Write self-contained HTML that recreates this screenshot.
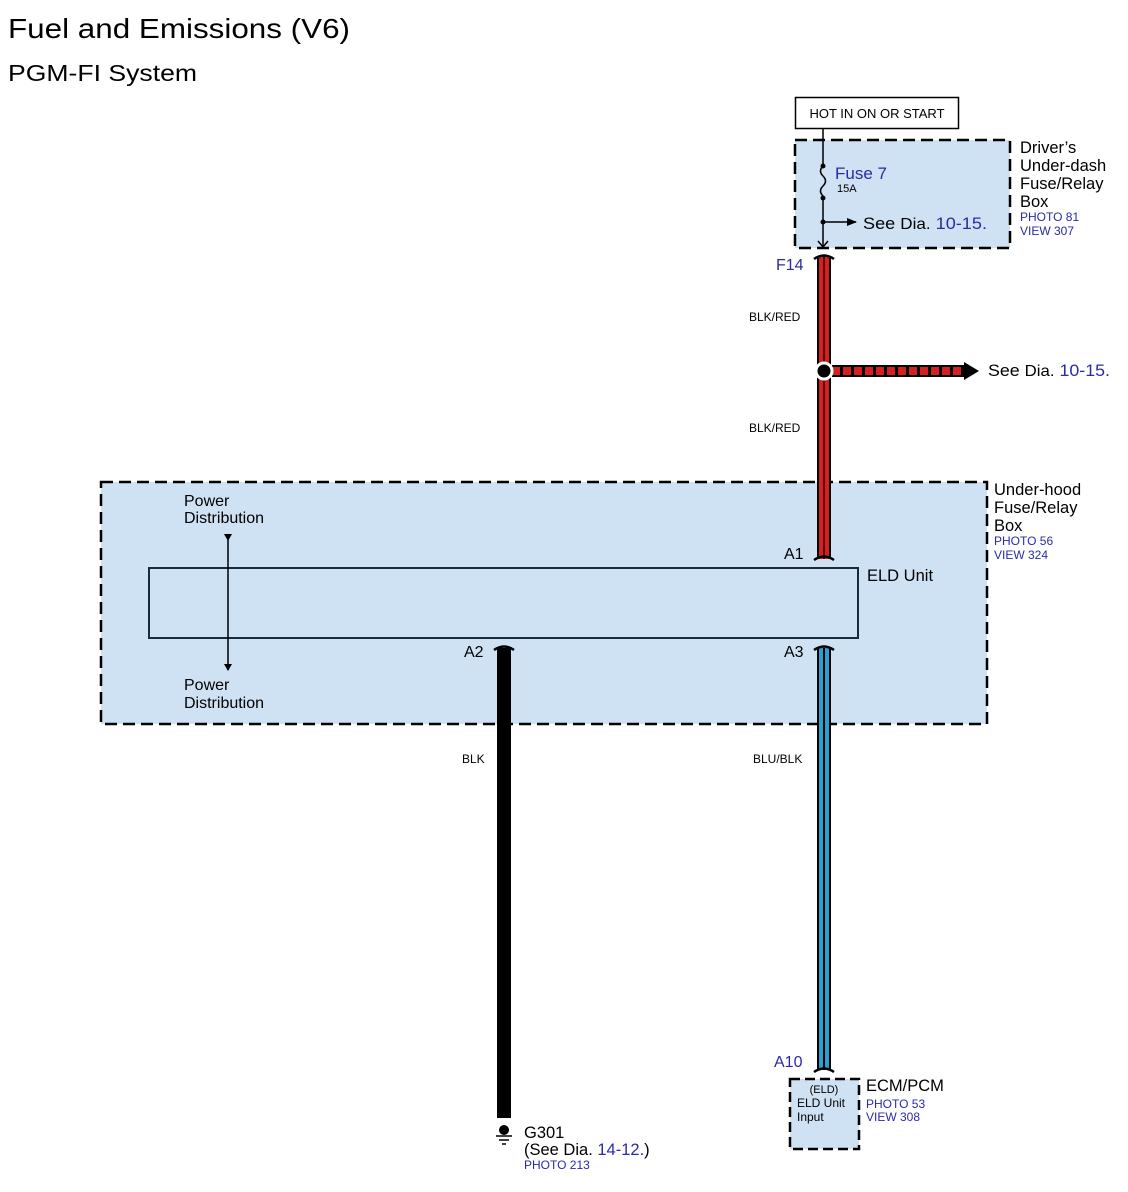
<!DOCTYPE html>
<html><head><meta charset="utf-8"><style>
html,body{margin:0;padding:0;background:#fff;}
svg{display:block;font-family:"Liberation Sans",Arial,sans-serif;}
</style></head><body>
<svg width="1128" height="1192" viewBox="0 0 1128 1192" xmlns="http://www.w3.org/2000/svg">
<defs>
<marker id="ah" markerWidth="10" markerHeight="10" refX="9" refY="5" orient="auto" markerUnits="userSpaceOnUse"><path d="M0,1 L10,5 L0,9 Z" fill="#000"/></marker>
</defs>
<text x="8" y="38" font-size="28" textLength="342" lengthAdjust="spacingAndGlyphs">Fuel and Emissions (V6)</text>
<text x="8" y="81" font-size="23" textLength="189" lengthAdjust="spacingAndGlyphs">PGM-FI System</text>

<rect x="795.5" y="97.5" width="163" height="31" fill="#fff" stroke="#000" stroke-width="1.5"/>
<text x="877" y="118" font-size="13" text-anchor="middle">HOT IN ON OR START</text>

<rect x="795" y="140" width="215" height="108" fill="#cfe2f3" stroke="#000" stroke-width="2.5" stroke-dasharray="12,6"/>
<line x1="823" y1="128" x2="823" y2="166" stroke="#000" stroke-width="1.5"/>
<path d="M823,166 q-5,5 0,10 q5,5 0,10 q-5,5 0,10" fill="none" stroke="#000" stroke-width="1.5"/>
<circle cx="823" cy="166" r="2.5"/><circle cx="823" cy="198" r="2.5"/><circle cx="823" cy="222" r="2.5"/>
<line x1="823" y1="198" x2="823" y2="247" stroke="#000" stroke-width="1.5"/>
<path d="M818,241 L823,247 L828,241" fill="none" stroke="#000" stroke-width="1.5"/>
<line x1="823" y1="222" x2="856" y2="222" stroke="#000" stroke-width="1.5" marker-end="url(#ah)"/>
<text x="835" y="179" font-size="17" fill="#2a2aa8">Fuse 7</text>
<text x="837" y="192" font-size="11">15A</text>
<text x="863" y="229" font-size="17" textLength="124" lengthAdjust="spacingAndGlyphs">See <tspan font-size="16">Dia.</tspan> <tspan fill="#2a2aa8">10-15.</tspan></text>
<text x="1020" y="153" font-size="16.5">Driver’s</text>
<text x="1020" y="171" font-size="16.5">Under-dash</text>
<text x="1020" y="189" font-size="16.5">Fuse/Relay</text>
<text x="1020" y="207" font-size="16.5">Box</text>
<text x="1020" y="221" font-size="12" fill="#2a2aa8">PHOTO 81</text>
<text x="1020" y="235" font-size="12" fill="#2a2aa8">VIEW 307</text>

<rect x="101" y="482" width="886" height="242" fill="#cfe2f3" stroke="#000" stroke-width="2.5" stroke-dasharray="12,6"/>
<rect x="149" y="568" width="709" height="70" fill="none" stroke="#1a2a3a" stroke-width="2"/>
<text x="867" y="581" font-size="16.5">ELD Unit</text>
<text x="994" y="495" font-size="16.5">Under-hood</text>
<text x="994" y="513" font-size="16.5">Fuse/Relay</text>
<text x="994" y="531" font-size="16.5">Box</text>
<text x="994" y="545" font-size="12" fill="#2a2aa8">PHOTO 56</text>
<text x="994" y="559" font-size="12" fill="#2a2aa8">VIEW 324</text>
<text x="184" y="506" font-size="16">Power</text>
<text x="184" y="523" font-size="16">Distribution</text>
<text x="184" y="690" font-size="16">Power</text>
<text x="184" y="708" font-size="16">Distribution</text>
<line x1="228" y1="534" x2="228" y2="670" stroke="#000" stroke-width="1.5"/>
<path d="M224,534 L232,534 L228,541 Z"/>
<path d="M224,664 L232,664 L228,671 Z"/>

<rect x="817" y="256" width="14" height="303" fill="#000"/>
<rect x="819" y="256" width="10" height="303" fill="#d42020"/>
<line x1="824" y1="256" x2="824" y2="559" stroke="#300" stroke-width="1.5"/>
<path d="M814,259 Q824,252 834,259" fill="none" stroke="#000" stroke-width="2.5"/>
<path d="M814,560 Q824,553 834,560" fill="none" stroke="#000" stroke-width="2.5"/>
<text x="776" y="270" font-size="16" fill="#2a2aa8">F14</text>
<text x="749" y="321" font-size="12">BLK/RED</text>
<text x="749" y="432" font-size="12">BLK/RED</text>
<text x="784" y="559" font-size="16">A1</text>
<rect x="832" y="365" width="133" height="12" fill="#000"/>
<line x1="832" y1="371" x2="965" y2="371" stroke="#d42020" stroke-width="8" stroke-dasharray="8,3"/>
<path d="M964,362 L979,371 L964,380 Z"/>
<circle cx="824" cy="371" r="8" fill="#000" stroke="#fff" stroke-width="3"/>
<text x="988" y="376" font-size="17" textLength="122" lengthAdjust="spacingAndGlyphs">See <tspan font-size="16">Dia.</tspan> <tspan fill="#2a2aa8">10-15.</tspan></text>

<rect x="497" y="648" width="14" height="470" fill="#000"/>
<path d="M494,650 Q504,643 514,650" fill="none" stroke="#000" stroke-width="2.5"/>
<text x="464" y="657" font-size="16">A2</text>
<text x="462" y="763" font-size="12">BLK</text>
<circle cx="504" cy="1130" r="5"/>
<line x1="496" y1="1136" x2="512" y2="1136" stroke="#000" stroke-width="1.5"/>
<line x1="499" y1="1140" x2="509" y2="1140" stroke="#000" stroke-width="1.5"/>
<line x1="502" y1="1144" x2="506" y2="1144" stroke="#000" stroke-width="1.5"/>
<text x="524" y="1138" font-size="16.5">G301</text>
<text x="524" y="1155" font-size="16.5">(See Dia. <tspan fill="#2a2aa8">14-12.</tspan>)</text>
<text x="524" y="1169" font-size="12" fill="#2a2aa8">PHOTO 213</text>

<rect x="817" y="648" width="14" height="422" fill="#000"/>
<rect x="819" y="648" width="10" height="422" fill="#2aa0d0"/>
<line x1="824" y1="648" x2="824" y2="1070" stroke="#000" stroke-width="2"/>
<path d="M814,650 Q824,643 834,650" fill="none" stroke="#000" stroke-width="2.5"/>
<path d="M814,1072 Q824,1065 834,1072" fill="none" stroke="#000" stroke-width="2.5"/>
<text x="784" y="657" font-size="16">A3</text>
<text x="753" y="763" font-size="12">BLU/BLK</text>
<text x="774" y="1067" font-size="16" fill="#2a2aa8">A10</text>

<rect x="790" y="1079" width="69" height="70" fill="#cfe2f3" stroke="#000" stroke-width="2.5" stroke-dasharray="10,5"/>
<text x="824" y="1093" font-size="11" text-anchor="middle">(ELD)</text>
<text x="797" y="1107" font-size="12">ELD Unit</text>
<text x="797" y="1121" font-size="12">Input</text>
<text x="866" y="1091" font-size="16.5">ECM/PCM</text>
<text x="866" y="1108" font-size="12" fill="#2a2aa8">PHOTO 53</text>
<text x="866" y="1121" font-size="12" fill="#2a2aa8">VIEW 308</text>
</svg>
</body></html>
